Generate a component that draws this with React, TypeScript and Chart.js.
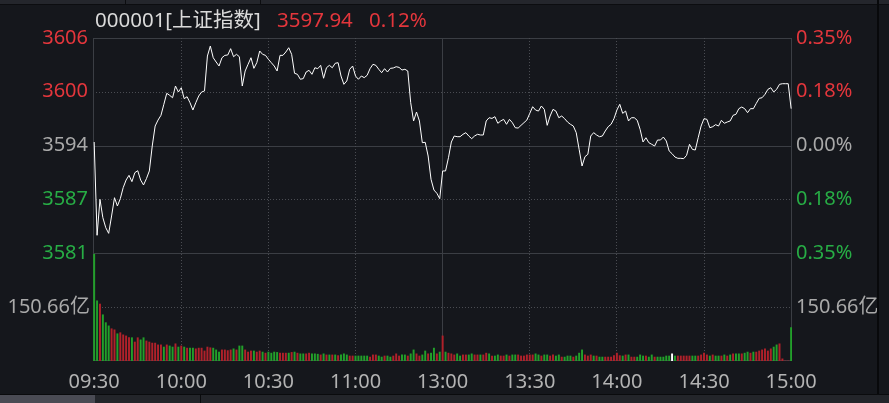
import React, { useEffect, useRef } from 'react';
import { Chart, registerables } from 'chart.js';

Chart.register(...registerables);

const BG = '#15171c';
const FONT = '"Noto Sans", "Noto Sans CJK SC", sans-serif';
const RED_TXT = '#e3363c';
const GREEN_TXT = '#27ad45';
const GRAY_TXT = '#a9a9a9';
const RED_BAR = '#b0212a';
const GREEN_BAR = '#22a02a';

const indexCode = '000001[上证指数]';
const lastPrice = '3597.94';
const lastChange = '0.12%';

const timeLabels = ['09:30', '10:00', '10:30', '11:00', '13:00', '13:30', '14:00', '14:30', '15:00'];
const timeTickIdx = [0, 30, 60, 90, 120, 150, 180, 210, 240];
const timeMin = -0.4;
const timeMax = 240.3;

const priceMin = 3581.05;
const priceMax = 3606.21;
const priceTicks = [3581.05, 3587.34, 3593.63, 3599.92, 3606.21];
const priceTickLabels = ['3581', '3587', '3594', '3600', '3606'];

const pctMin = -0.35;
const pctMax = 0.35;
const pctTicks = [-0.35, -0.175, 0, 0.175, 0.35];
const pctTickLabels = ['0.35%', '0.18%', '0.00%', '0.18%', '0.35%'];

const volMax = 301.32;
const volTicks = [150.66];
const volTickLabels = ['150.66亿'];

const prices = [
  3594.04, 3583.12, 3587.33, 3585.18, 3584.01, 3583.35, 3585.38, 3587.52, 3586.55, 3587.41,
  3588.70, 3589.59, 3590.14, 3589.40, 3590.45, 3590.68, 3589.59, 3589.01, 3589.75, 3590.65,
  3593.57, 3595.91, 3596.61, 3597.16, 3598.45, 3599.74, 3599.50, 3599.22, 3600.59, 3599.89,
  3600.39, 3599.11, 3599.34, 3598.64, 3597.78, 3598.64, 3599.42, 3599.89, 3600.01, 3604.10,
  3605.27, 3603.90, 3603.40, 3602.93, 3603.90, 3604.18, 3604.22, 3604.96, 3604.02, 3604.30,
  3604.02, 3600.59, 3602.35, 3603.13, 3603.90, 3602.66, 3603.32, 3604.69, 3604.30, 3604.18,
  3603.72, 3603.32, 3602.93, 3602.35, 3604.18, 3604.18, 3604.57, 3605.07, 3604.30, 3602.08,
  3601.96, 3601.38, 3601.46, 3602.23, 3602.43, 3601.96, 3602.73, 3602.62, 3603.01, 3601.50,
  3602.73, 3603.01, 3602.73, 3603.25, 3603.32, 3601.76, 3600.79, 3601.18, 3602.55, 3602.93,
  3601.76, 3601.38, 3601.76, 3601.57, 3601.84, 3602.62, 3603.13, 3603.01, 3602.55, 3602.15,
  3602.62, 3602.23, 3602.66, 3602.70, 3602.85, 3602.77, 3602.46, 3602.55, 3602.35, 3598.64,
  3596.50, 3597.55, 3596.50, 3593.96, 3594.00, 3592.40, 3589.68, 3588.42, 3588.04, 3587.41,
  3590.65, 3590.65, 3592.20, 3594.04, 3594.74, 3594.66, 3594.66, 3594.94, 3595.13, 3594.74,
  3594.43, 3594.74, 3594.94, 3594.86, 3594.86, 3596.50, 3596.88, 3596.80, 3597.00, 3596.23,
  3596.50, 3596.69, 3596.11, 3596.69, 3596.30, 3595.71, 3595.67, 3595.99, 3596.30, 3596.61,
  3597.39, 3598.17, 3597.78, 3597.66, 3598.25, 3597.86, 3595.99, 3597.08, 3597.86, 3597.66,
  3596.88, 3597.08, 3596.77, 3596.38, 3596.11, 3595.91, 3595.13, 3593.18, 3591.23, 3592.32,
  3592.60, 3594.74, 3595.13, 3594.86, 3594.66, 3594.74, 3595.33, 3595.83, 3596.11, 3596.77,
  3597.78, 3598.45, 3597.39, 3597.66, 3596.50, 3596.88, 3596.88, 3596.58, 3595.52, 3594.04,
  3594.54, 3593.96, 3593.77, 3593.57, 3594.27, 3594.27, 3594.62, 3594.16, 3592.99, 3592.67,
  3592.28, 3592.13, 3592.13, 3592.09, 3592.48, 3593.77, 3593.18, 3593.10, 3594.54, 3595.91,
  3596.77, 3596.69, 3595.71, 3595.83, 3596.07, 3595.91, 3596.58, 3596.23, 3596.38, 3596.50,
  3597.16, 3597.28, 3597.94, 3598.13, 3597.94, 3597.47, 3597.94, 3597.94, 3598.56, 3599.15,
  3599.22, 3599.62, 3600.20, 3600.39, 3599.89, 3600.20, 3600.79, 3600.86, 3600.86, 3600.86,
  3597.94,
];

const volumes = [
  298, 168, 159, 129, 107, 98, 90, 87, 76, 79,
  73, 70, 65, 65, 53, 65, 59, 65, 56, 53,
  50, 50, 45, 45, 39, 45, 42, 39, 48, 39,
  42, 39, 36, 36, 36, 34, 36, 36, 28, 39,
  37, 36, 31, 25, 31, 31, 29, 31, 34, 31,
  42, 42, 31, 25, 28, 28, 25, 28, 25, 22,
  25, 22, 25, 24, 22, 22, 22, 22, 24, 25,
  22, 20, 20, 20, 22, 20, 20, 19, 17, 20,
  17, 17, 17, 17, 15, 17, 20, 17, 14, 14,
  14, 14, 14, 14, 14, 11, 17, 17, 14, 11,
  14, 14, 11, 14, 20, 14, 17, 17, 14, 20,
  31, 20, 14, 17, 28, 20, 22, 36, 20, 25,
  70, 25, 22, 20, 17, 20, 14, 17, 17, 17,
  20, 17, 17, 17, 17, 22, 20, 14, 14, 17,
  14, 14, 17, 14, 17, 17, 17, 14, 14, 17,
  17, 17, 20, 17, 14, 17, 17, 14, 17, 14,
  17, 11, 11, 14, 14, 11, 14, 22, 31, 17,
  14, 17, 14, 14, 11, 11, 11, 11, 11, 15,
  22, 15, 14, 17, 17, 11, 11, 11, 17, 14,
  14, 11, 17, 11, 11, 11, 11, 14, 14, 20,
  14, 14, 14, 14, 14, 14, 14, 14, 14, 17,
  22, 17, 14, 17, 14, 14, 14, 17, 14, 17,
  20, 20, 20, 20, 22, 25, 22, 25, 25, 28,
  31, 34, 28, 34, 39, 45, 48, 6, 0, 0,
  93,
];

const volumeDirection = [
  'GGRGGGRRGR', 'RRRGRRGGRR', 'RRRRGRGGRG', 'RGRGGRRRRR', 'RGGGRRRRGR',
  'GGRRRGRRGR', 'GGGGRRRGRG', 'RGGRRGGGRG', 'RGRGRGGGRR', 'GGGGGRRRGG',
  'RGGRRRGGRG', 'GRRGGRGGRG', 'RGRRRGGRRG', 'GRRGRRGRGG', 'RRGRGGRRRR',
  'RRGGRGGRRG', 'GRGGGRGGGR', 'RRGRGGRRRR', 'RRGRGRRGGG', 'RGGRGGGGGW',
  'GRRRRRGGRR', 'RRGRGGRGRG', 'RGGRGGRGRR', 'RRRRGGRRRR', 'G',
].join('');

const SOLID = '#3b3e44';
const DOTTED = '#4a4c52';

const gridPlugin = {
  id: 'quoteGrid',
  beforeDatasetsDraw(chart: any) {
    const { ctx, scales } = chart;
    const x = scales.x;
    const y = scales.y;
    const yv = scales.yv;
    const left = chart.chartArea.left;
    const right = chart.chartArea.right;
    const top = y.top;
    const bottom = yv.bottom;
    const hl = (py: number, dash: number[], color: string) => {
      const r = Math.min(Math.round(py), Math.round(bottom) - 1) + 0.5;
      ctx.save();
      ctx.strokeStyle = color;
      ctx.lineWidth = 1;
      ctx.setLineDash(dash);
      ctx.beginPath();
      ctx.moveTo(left, r);
      ctx.lineTo(right, r);
      ctx.stroke();
      ctx.restore();
    };
    const vl = (c: number, dash: number[], color: string) => {
      ctx.save();
      ctx.strokeStyle = color;
      ctx.lineWidth = 1;
      ctx.setLineDash(dash);
      ctx.beginPath();
      ctx.moveTo(c, top);
      ctx.lineTo(c, bottom);
      ctx.stroke();
      ctx.restore();
    };
    priceTicks.forEach((v, i) => {
      const dotted = i === 1 || i === 3;
      hl(y.getPixelForValue(v), dotted ? [1, 2] : [], dotted ? DOTTED : SOLID);
    });
    volTicks.forEach((v) => hl(yv.getPixelForValue(v), [1, 2], DOTTED));
    hl(yv.getPixelForValue(0), [], SOLID);
    timeTickIdx.forEach((t, i) => {
      if (i === 0) {
        vl(Math.round(left) + 0.5, [], SOLID);
      } else if (i === timeTickIdx.length - 1) {
        vl(Math.round(right) - 0.5, [], SOLID);
      } else {
        const solid = t === 120;
        vl(Math.floor(x.getPixelForValue(t)) + 0.5, solid ? [] : [1, 2], solid ? SOLID : DOTTED);
      }
    });
  },
};

const fixWidth = (w: number) => (scale: any) => {
  scale.width = w;
};

export default function App() {
  const ref = useRef<HTMLCanvasElement>(null);

  useEffect(() => {
    document.body.style.margin = '0';
    document.body.style.background = BG;
    const font = { family: FONT, size: 20 };
    const chart = new Chart(ref.current as HTMLCanvasElement, {
      type: 'line',
      data: {
        datasets: [
          {
            type: 'line',
            data: prices.map((v, i) => ({ x: i, y: v })),
            yAxisID: 'y',
            xAxisID: 'x',
            borderColor: '#ffffff',
            borderWidth: 1,
            pointRadius: 0,
            tension: 0,
            fill: false,
          } as any,
          {
            type: 'bar',
            data: volumes.map((v, i) => ({ x: i, y: v })),
            yAxisID: 'yv',
            xAxisID: 'x',
            backgroundColor: volumes.map((_, i) =>
              volumeDirection[i] === 'R' ? RED_BAR : volumeDirection[i] === 'W' ? '#ffffff' : GREEN_BAR
            ),
            borderWidth: 0,
            barThickness: 1.3,
          } as any,
        ],
      },
      options: {
        responsive: false,
        devicePixelRatio: 1,
        animation: false,
        events: [],
        layout: { padding: { top: 38, left: 0, right: 0, bottom: 0 } },
        plugins: { legend: { display: false }, tooltip: { enabled: false } },
        scales: {
          x: {
            type: 'linear',
            position: 'bottom',
            min: timeMin,
            max: timeMax,
            offset: false,
            grid: { display: false, drawTicks: false },
            border: { display: false },
            afterBuildTicks: (s: any) => {
              s.ticks = timeTickIdx.map((v) => ({ value: v }));
            },
            afterFit: (s: any) => {
              s.height = 42;
            },
            ticks: {
              autoSkip: false,
              maxRotation: 0,
              padding: 9,
              color: '#b3b3b3',
              font,
              callback: (_v: any, i: number) => timeLabels[i],
            },
          },
          y: {
            type: 'linear',
            position: 'left',
            stack: 'L',
            stackWeight: 215,
            weight: 1,
            min: priceMin,
            max: priceMax,
            grid: { display: false, drawTicks: false },
            border: { display: false },
            afterBuildTicks: (s: any) => {
              s.ticks = priceTicks.map((v) => ({ value: v }));
            },
            afterFit: fixWidth(93),
            ticks: {
              padding: 5,
              font,
              color: (c: any) => (c.index < 2 ? GREEN_TXT : c.index === 2 ? GRAY_TXT : RED_TXT),
              callback: (_v: any, i: number) => priceTickLabels[i],
            },
          },
          yv: {
            type: 'linear',
            position: 'left',
            stack: 'L',
            stackWeight: 108,
            weight: 0,
            min: 0,
            max: volMax,
            grid: { display: false, drawTicks: false },
            border: { display: false },
            afterBuildTicks: (s: any) => {
              s.ticks = volTicks.map((v) => ({ value: v }));
            },
            afterFit: fixWidth(93),
            ticks: {
              padding: 3,
              font,
              color: GRAY_TXT,
              callback: (_v: any, i: number) => volTickLabels[i],
            },
          },
          yr: {
            type: 'linear',
            position: 'right',
            stack: 'R',
            stackWeight: 215,
            weight: 0,
            min: pctMin,
            max: pctMax,
            grid: { display: false, drawTicks: false },
            border: { display: false },
            afterBuildTicks: (s: any) => {
              s.ticks = pctTicks.map((v) => ({ value: v }));
            },
            afterFit: fixWidth(97),
            ticks: {
              padding: 4,
              font,
              color: (c: any) => (c.index < 2 ? GREEN_TXT : c.index === 2 ? GRAY_TXT : RED_TXT),
              callback: (_v: any, i: number) => pctTickLabels[i],
            },
          },
          yvr: {
            type: 'linear',
            position: 'right',
            stack: 'R',
            stackWeight: 108,
            weight: 1,
            min: 0,
            max: volMax,
            grid: { display: false, drawTicks: false },
            border: { display: false },
            afterBuildTicks: (s: any) => {
              s.ticks = volTicks.map((v) => ({ value: v }));
            },
            afterFit: fixWidth(97),
            ticks: {
              padding: 4,
              font,
              color: GRAY_TXT,
              callback: (_v: any, i: number) => volTickLabels[i],
            },
          },
        },
      } as any,
      plugins: [gridPlugin],
    });
    return () => chart.destroy();
  }, []);

  const headText: React.CSSProperties = {
    position: 'absolute',
    top: 5,
    height: 28,
    lineHeight: '28px',
    fontFamily: FONT,
    fontSize: 20.5,
    whiteSpace: 'nowrap',
  };

  return (
    <div style={{ position: 'relative', width: 889, height: 403, background: BG, overflow: 'hidden' }}>
      <canvas ref={ref} width={889} height={403} style={{ position: 'absolute', left: 0, top: 0, width: 889, height: 403 }} />
      <div style={{ position: 'absolute', left: 0, top: 0, width: 889, height: 4, background: '#24262c', borderBottom: '1px solid #0c0d10' }} />
      <div style={{ position: 'absolute', left: 125, top: 0, width: 1, height: 4, background: '#0c0d10' }} />
      <div style={{ position: 'absolute', left: 260, top: 0, width: 1, height: 4, background: '#0c0d10' }} />
      <div style={{ position: 'absolute', left: 877, top: 0, width: 2, height: 394, background: '#08090b' }} />
      <div style={{ position: 'absolute', left: 0, top: 394, width: 889, height: 9, background: '#23252a', borderTop: '1px solid #0a0b0d' }} />
      <div style={{ position: 'absolute', left: 0, top: 395, width: 95, height: 8, background: '#4a4b54' }} />
      <div style={{ position: 'absolute', left: 200, top: 395, width: 1, height: 8, background: '#0a0b0d' }} />
      <span style={{ ...headText, left: 95, color: '#dadada' }}>{indexCode}</span>
      <span style={{ ...headText, left: 277, color: RED_TXT }}>{lastPrice}</span>
      <span style={{ ...headText, left: 369, color: RED_TXT }}>{lastChange}</span>
    </div>
  );
}
